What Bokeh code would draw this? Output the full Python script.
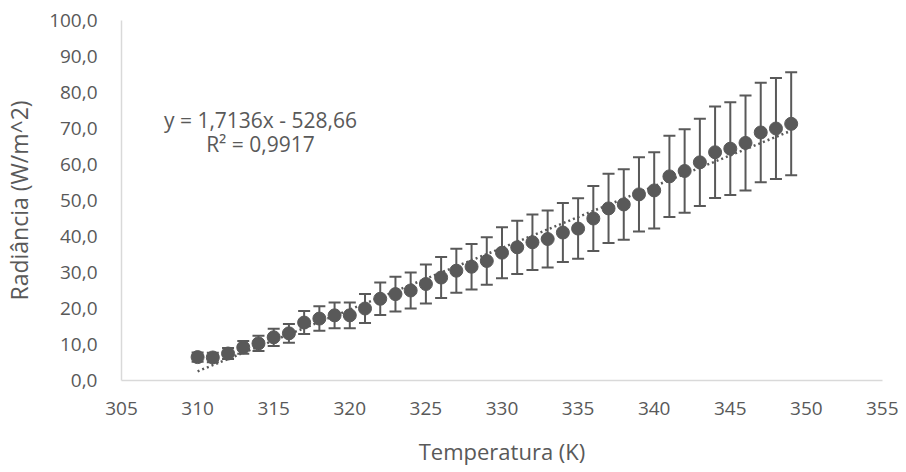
from bokeh.plotting import figure
from bokeh.models import (ColumnDataSource, Whisker, TeeHead, Range1d, FixedTicker,
                          CustomJSTickFormatter, Label)
from bokeh.embed import file_html
from bokeh.resources import INLINE

# ---- data ----
temperatura = [310, 311, 312, 313, 314, 315, 316, 317, 318, 319,
               320, 321, 322, 323, 324, 325, 326, 327, 328, 329,
               330, 331, 332, 333, 334, 335, 336, 337, 338, 339,
               340, 341, 342, 343, 344, 345, 346, 347, 348, 349]
radiancia = [6.5, 6.4, 7.5, 9.2, 10.3, 12.0, 13.1, 16.1, 17.2, 18.1,
             18.1, 20.0, 22.7, 24.0, 25.0, 26.8, 28.6, 30.5, 31.6, 33.2,
             35.5, 37.0, 38.4, 39.3, 41.1, 42.2, 45.0, 47.8, 48.9, 51.7,
             52.8, 56.7, 58.2, 60.6, 63.4, 64.4, 66.0, 68.9, 70.0, 71.3]
erro = [1.3, 1.3, 1.5, 1.8, 2.1, 2.4, 2.6, 3.2, 3.4, 3.6,
        3.6, 4.0, 4.5, 4.8, 5.0, 5.4, 5.7, 6.1, 6.3, 6.6,
        7.1, 7.4, 7.7, 7.9, 8.2, 8.4, 9.0, 9.6, 9.8, 10.3,
        10.6, 11.3, 11.6, 12.1, 12.7, 12.9, 13.2, 13.8, 14.0, 14.3]
slope = 1.7136
intercept = -528.66
r2 = 0.9917
x_ticks = [305, 310, 315, 320, 325, 330, 335, 340, 345, 350, 355]
y_ticks = [0, 10, 20, 30, 40, 50, 60, 70, 80, 90, 100]

GREY = "#595959"
FONT = "Open Sans"

p = figure(width=898, height=468, output_backend="svg", toolbar_location=None,
           x_range=Range1d(305, 355), y_range=Range1d(0, 100),
           min_border_left=121, min_border_right=16, min_border_top=20,
           min_border_bottom=88)
p.outline_line_color = None
p.xgrid.visible = False
p.ygrid.visible = False

src = ColumnDataSource(dict(
    x=temperatura, y=radiancia,
    upper=[v + e for v, e in zip(radiancia, erro)],
    lower=[v - e for v, e in zip(radiancia, erro)],
))

# trendline
tx = [temperatura[0], temperatura[-1]]
ty = [slope * t + intercept for t in tx]
p.line(tx, ty, line_color=GREY, line_width=2.5, line_dash="2 3")

# error bars
w = Whisker(source=src, base="x", upper="upper", lower="lower",
            line_color=GREY, line_width=2,
            upper_head=TeeHead(size=12, line_color=GREY, line_width=2),
            lower_head=TeeHead(size=12, line_color=GREY, line_width=2))
p.add_layout(w)

p.scatter("x", "y", source=src, size=13, fill_color=GREY, line_color=GREY)

# equation
eq1 = "y = " + f"{slope:.4f}".replace(".", ",") + "x - " + f"{-intercept:.2f}".replace(".", ",")
eq2 = "R² = " + f"{r2:.4f}".replace(".", ",")
for txt, yy in [(eq1, 72.5), (eq2, 65.8)]:
    p.add_layout(Label(x=314.13, y=yy, text=txt, text_align="center",
                       text_baseline="middle", text_font=FONT,
                       text_font_size="21px", text_color=GREY))

# axes
for ax in (p.xaxis[0], p.yaxis[0]):
    ax.axis_line_color = "#d9d9d9"
    ax.axis_line_width = 1.5
    ax.major_tick_line_color = None
    ax.minor_tick_line_color = None
    ax.major_tick_out = 0
    ax.major_tick_in = 0
    ax.minor_tick_out = 0
    ax.minor_tick_in = 0
    ax.major_label_text_font = FONT
    ax.major_label_text_font_size = "19px"
    ax.major_label_text_color = GREY
    ax.axis_label_text_font = FONT
    ax.axis_label_text_font_size = "22px"
    ax.axis_label_text_font_style = "normal"
    ax.axis_label_text_color = GREY

p.yaxis.axis_label_text_font_size = "23px"
p.xaxis.ticker = FixedTicker(ticks=x_ticks)
p.yaxis.ticker = FixedTicker(ticks=y_ticks)
p.yaxis.formatter = CustomJSTickFormatter(code="return tick.toFixed(1).replace('.', ',');")
p.xaxis.axis_label = "Temperatura (K)"
p.yaxis.axis_label = "Radiância (W/m^2)"
p.xaxis.major_label_standoff = 21
p.yaxis.major_label_standoff = 24
p.xaxis.axis_label_standoff = 18
p.yaxis.axis_label_standoff = 11

open("out.html", "w").write(file_html(p, INLINE))
